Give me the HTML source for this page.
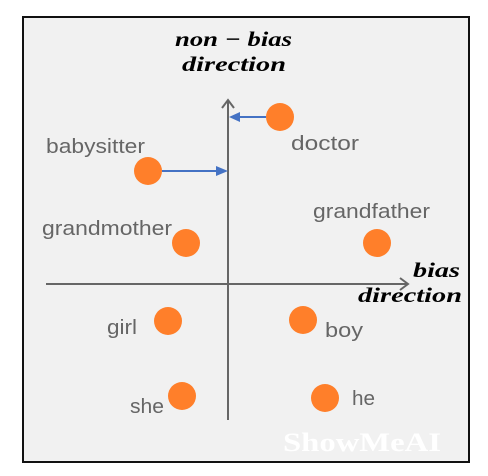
<!DOCTYPE html>
<html><head><style>
body{margin:0;background:#fff;}
svg{display:block;}
.l{font-family:"Liberation Sans",sans-serif;font-size:20px;fill:#666;}
.m{font-family:"Liberation Serif",serif;font-size:21px;font-weight:bold;font-style:italic;fill:#000;}
</style></head><body>
<svg width="488" height="476" viewBox="0 0 488 476">
<rect x="23" y="17" width="446" height="445" fill="#f1f1f1" stroke="#111" stroke-width="2"/>
<g stroke="#666" stroke-width="2" fill="none">
<line x1="228" y1="100" x2="228" y2="420"/>
<polyline points="222,108 228,100 234,108"/>
<line x1="46" y1="284" x2="408" y2="284"/>
<polyline points="400,278 408,284 400,290"/>
</g>
<g stroke="#4472c4" stroke-width="2">
<line x1="266" y1="117" x2="236" y2="117"/>
<line x1="162" y1="171" x2="218" y2="171"/>
</g>
<polygon points="229,117 240,112 240,122" fill="#4472c4"/>
<polygon points="228,171 216,166 216,176" fill="#4472c4"/>
<g fill="#ff7f2a">
<circle cx="280" cy="117" r="14"/>
<circle cx="148" cy="171" r="14"/>
<circle cx="186" cy="243" r="14"/>
<circle cx="377" cy="243" r="14"/>
<circle cx="168" cy="321" r="14"/>
<circle cx="303" cy="320" r="14"/>
<circle cx="182" cy="396" r="14"/>
<circle cx="325" cy="398" r="14"/>
</g>
<g lengthAdjust="spacingAndGlyphs">
<text class="l" x="46" y="153" textLength="99" lengthAdjust="spacingAndGlyphs">babysitter</text>
<text class="l" x="291" y="150" textLength="68" lengthAdjust="spacingAndGlyphs">doctor</text>
<text class="l" x="313" y="218" textLength="117" lengthAdjust="spacingAndGlyphs">grandfather</text>
<text class="l" x="42" y="235" textLength="130" lengthAdjust="spacingAndGlyphs">grandmother</text>
<text class="l" x="107" y="334" textLength="30" lengthAdjust="spacingAndGlyphs">girl</text>
<text class="l" x="325" y="337" textLength="38" lengthAdjust="spacingAndGlyphs">boy</text>
<text class="l" x="130" y="413" textLength="34" lengthAdjust="spacingAndGlyphs">she</text>
<text class="l" x="352" y="405" textLength="23" lengthAdjust="spacingAndGlyphs">he</text>
<text class="m" x="175" y="46" textLength="117" lengthAdjust="spacingAndGlyphs">non − bias</text>
<text class="m" x="182" y="71" textLength="104" lengthAdjust="spacingAndGlyphs">direction</text>
<text class="m" x="413" y="277" textLength="47" lengthAdjust="spacingAndGlyphs">bias</text>
<text class="m" x="358" y="302" textLength="104" lengthAdjust="spacingAndGlyphs">direction</text>
<text x="283" y="451" font-family="Liberation Serif,serif" font-weight="bold" font-size="26" fill="#fff" textLength="158" lengthAdjust="spacingAndGlyphs">ShowMeAI</text>
</g>
</svg>
</body></html>
